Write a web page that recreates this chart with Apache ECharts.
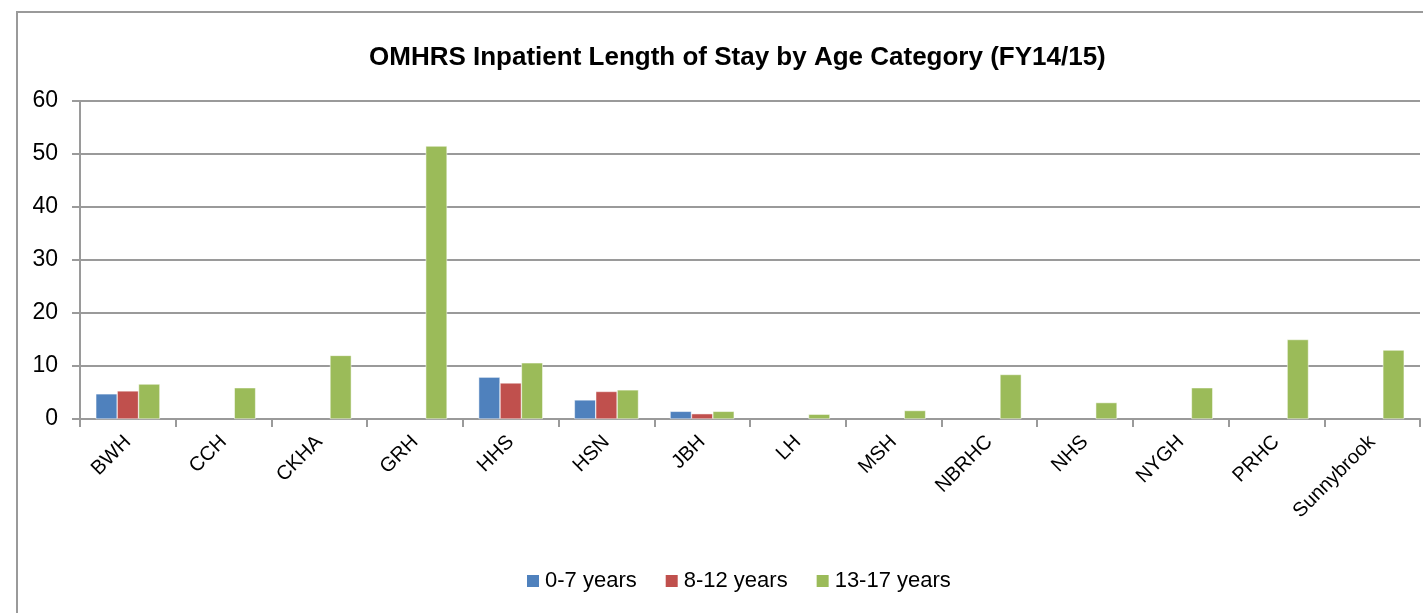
<!DOCTYPE html>
<html lang="en">
<head>
    <meta charset="UTF-8">
    <title>OMHRS Inpatient Length of Stay</title>
    <script src="https://cdn.jsdelivr.net/npm/echarts@6/dist/echarts.min.js"></script>
    <style>
        body { margin: 0; background: #fff; }
        #frame { position: absolute; left: 16px; top: 11px; width: 1500px; height: 700px; border: 2px solid #9a9a9a; }
        #main { position: absolute; left: 0; top: 0; width: 1423px; height: 613px; }
    </style>
</head>
<body>
<div id="frame"></div>
<div id="main"></div>

<script type="text/javascript">
    var categories = ['BWH', 'CCH', 'CKHA', 'GRH', 'HHS', 'HSN', 'JBH', 'LH', 'MSH', 'NBRHC', 'NHS', 'NYGH', 'PRHC', 'Sunnybrook'];
    var age0to7 = [4.75, null, null, null, 7.9, 3.6, 1.45, null, null, null, null, null, null, null];
    var age8to12 = [5.3, null, null, null, 6.8, 5.2, 1.0, null, null, null, null, null, null, null];
    var age13to17 = [6.6, 5.9, 12.0, 51.5, 10.6, 5.5, 1.45, 0.9, 1.6, 8.4, 3.1, 5.9, 15.0, 13.0];
    var seriesNames = ['0-7 years', '8-12 years', '13-17 years'];

    var font = '"Liberation Sans", Arial, sans-serif';
    var myChart = echarts.init(document.getElementById('main'));

    var option = {
        animation: false,
        color: ['#4f81bd', '#c0504d', '#9bbb59'],
        title: {
            text: 'OMHRS Inpatient Length of Stay by Age Category (FY14/15)',
            left: 364,
            top: 40,
            textStyle: { fontFamily: font, fontSize: 26, fontWeight: 'bold', color: '#000' }
        },
        legend: {
            data: seriesNames,
            bottom: 16,
            left: 520,
            itemWidth: 14,
            itemHeight: 14,
            itemGap: 27,
            icon: 'rect',
            textStyle: { fontFamily: font, fontSize: 22, color: '#000' }
        },
        grid: {
            left: 80,
            right: 3,
            top: 101,
            bottom: 194
        },
        xAxis: {
            type: 'category',
            data: categories,
            axisLine: { lineStyle: { color: '#9a9a9a', width: 2 } },
            axisTick: { show: true, length: 8, lineStyle: { color: '#9a9a9a', width: 2 } },
            axisLabel: { rotate: 45, fontFamily: font, fontSize: 20, color: '#000', margin: 20 }
        },
        yAxis: {
            type: 'value',
            min: 0,
            max: 60,
            interval: 10,
            axisLine: { show: true, lineStyle: { color: '#9a9a9a', width: 2 } },
            axisTick: { show: true, length: 8, lineStyle: { color: '#9a9a9a', width: 2 } },
            splitLine: { lineStyle: { color: '#9a9a9a', width: 2 } },
            axisLabel: { fontFamily: font, fontSize: 23, color: '#000', margin: 22 }
        },
        series: [
            { name: seriesNames[0], type: 'bar', data: age0to7, barGap: '0%', barCategoryGap: '33%',
              itemStyle: { borderColor: '#fff', borderWidth: 0.5 } },
            { name: seriesNames[1], type: 'bar', data: age8to12, barGap: '0%', barCategoryGap: '33%',
              itemStyle: { borderColor: '#fff', borderWidth: 0.5 } },
            { name: seriesNames[2], type: 'bar', data: age13to17, barGap: '0%', barCategoryGap: '33%',
              itemStyle: { borderColor: '#fff', borderWidth: 0.5 } }
        ]
    };
    myChart.setOption(option);
</script>
</body>
</html>
